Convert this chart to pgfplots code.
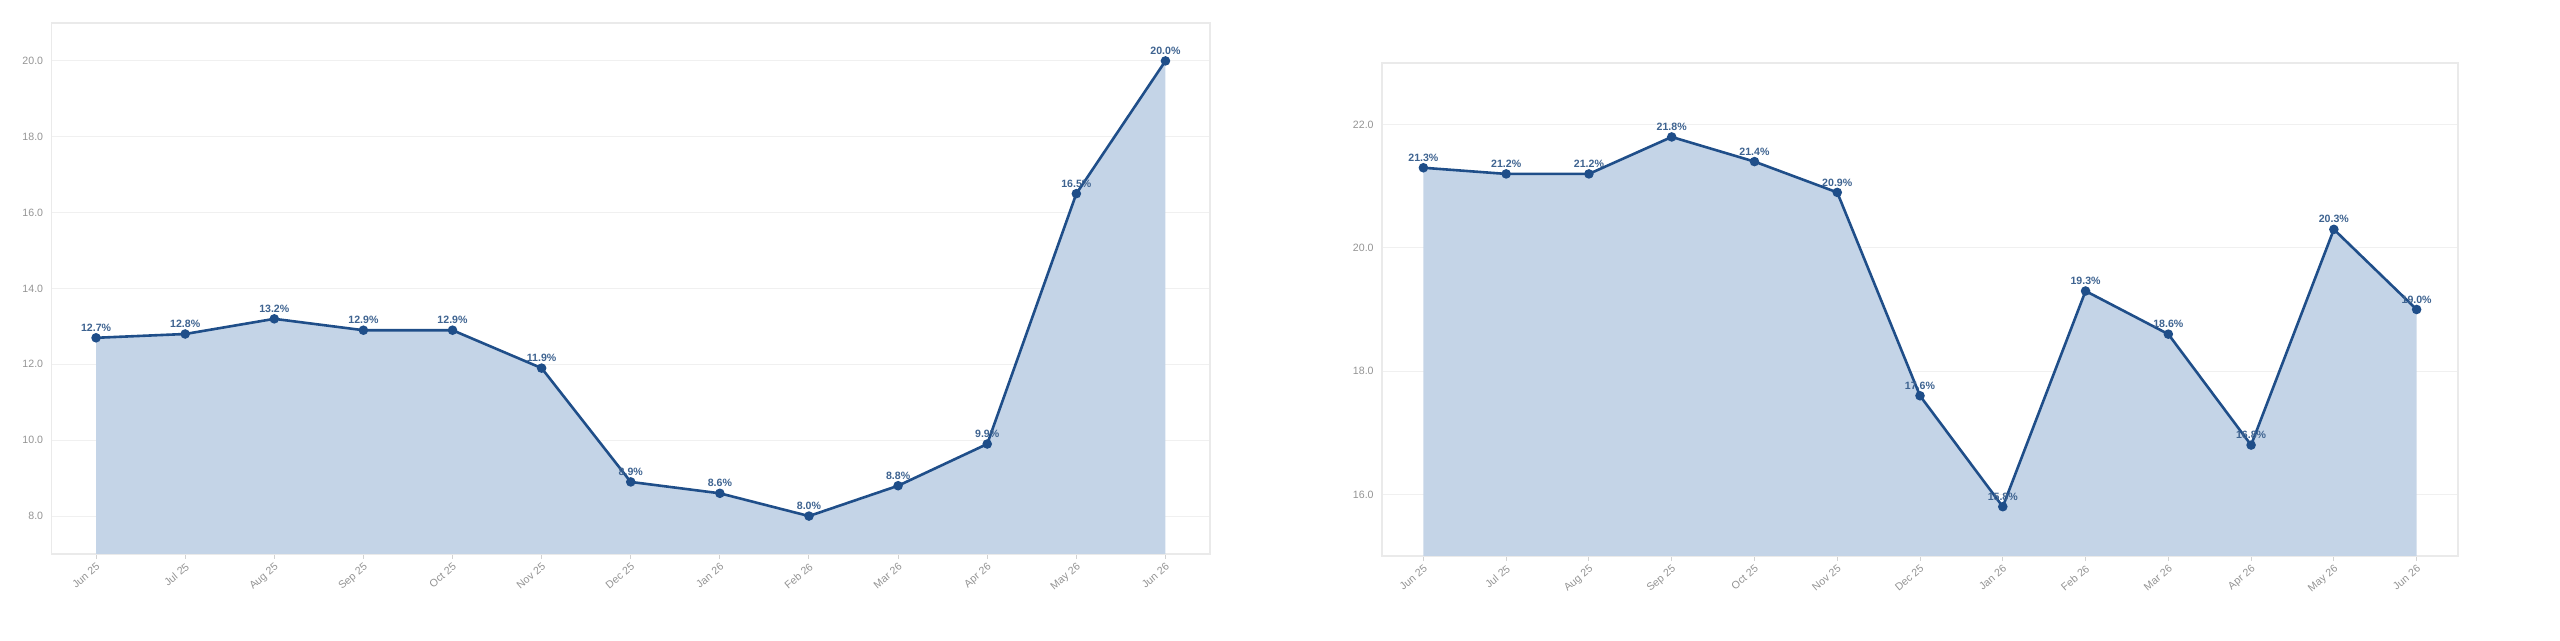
\documentclass[border=0pt]{standalone}
\usepackage{pgfplots}
\pgfplotsset{compat=1.18}
\usepackage{fontspec}
\setmainfont{Liberation Sans}
\definecolor{linec}{HTML}{1F4E89}
\definecolor{fillc}{HTML}{C4D4E7}
\definecolor{labc}{HTML}{3E6390}
\definecolor{tickc}{HTML}{939393}
\definecolor{gridc}{HTML}{F0F0F0}
\definecolor{framec}{HTML}{EAEAEA}
\definecolor{xtickc}{HTML}{D2D2D2}

\pgfplotstableread{
x y
0 12.7
1 12.8
2 13.2
3 12.9
4 12.9
5 11.9
6 8.9
7 8.6
8 8.0
9 8.8
10 9.9
11 16.5
12 20.0
}\leftdata

\pgfplotstableread{
x y
0 21.3
1 21.2
2 21.2
3 21.8
4 21.4
5 20.9
6 17.6
7 15.8
8 19.3
9 18.6
10 16.8
11 20.3
12 19.0
}\rightdata

\pgfplotsset{mystyle/.style={
  scale only axis, xmin=-0.5, xmax=12.5,
  xtick={0,...,12},
  xticklabels={Jun 25,Jul 25,Aug 25,Sep 25,Oct 25,Nov 25,Dec 25,Jan 26,Feb 26,Mar 26,Apr 26,May 26,Jun 26},
  x tick label style={rotate=40, anchor=north east, font=\fontsize{5.3}{6}\selectfont, text=tickc, inner sep=1pt},
  y tick label style={font=\fontsize{5.3}{6}\selectfont, text=tickc, inner sep=1.5pt},
  /pgf/number format/assume math mode=true,
  yticklabel={\pgfmathprintnumber[fixed,fixed zerofill,precision=1]{\tick}},
  ymajorgrids, grid style={gridc, line width=0.5pt},
  axis line style={framec, line width=0.6pt},
  tick align=outside, xtick pos=bottom, ytick pos=left,
  major tick length=2.5pt,
  xtick style={xtickc, line width=0.5pt},
  ytick style={draw=none},
  clip=false,
}}

\pgfplotsset{linestyle/.style={
  linec, line width=1.3pt, mark=*, mark size=1.7pt, mark options={fill=linec, draw=linec},
  nodes near coords={\pgfmathprintnumber[fixed,fixed zerofill,precision=1]{\pgfplotspointmeta}\%},
  point meta=y,
  every node near coord/.append style={font=\bfseries\fontsize{5.3}{6}\selectfont, text=labc, anchor=south, yshift=1.5pt, inner sep=1pt},
}}

\begin{document}
\begin{tikzpicture}
\path[use as bounding box] (0,0) rectangle (1280pt,320.5pt);
\begin{axis}[mystyle, at={(25.75pt,43.5pt)}, anchor=south west,
  width=579.25pt, height=265.5pt, ymin=7, ymax=21,
  ytick={8,10,12,14,16,18,20}]
\addplot[fill=fillc, draw=none] table[x=x,y=y]{\leftdata} \closedcycle;
\addplot[linestyle] table[x=x,y=y]{\leftdata};
\end{axis}
\begin{axis}[mystyle, at={(691pt,42.5pt)}, anchor=south west,
  width=538pt, height=246.5pt, ymin=15, ymax=23,
  ytick={16,18,20,22}]
\addplot[fill=fillc, draw=none] table[x=x,y=y]{\rightdata} \closedcycle;
\addplot[linestyle] table[x=x,y=y]{\rightdata};
\end{axis}
\end{tikzpicture}
\end{document}
